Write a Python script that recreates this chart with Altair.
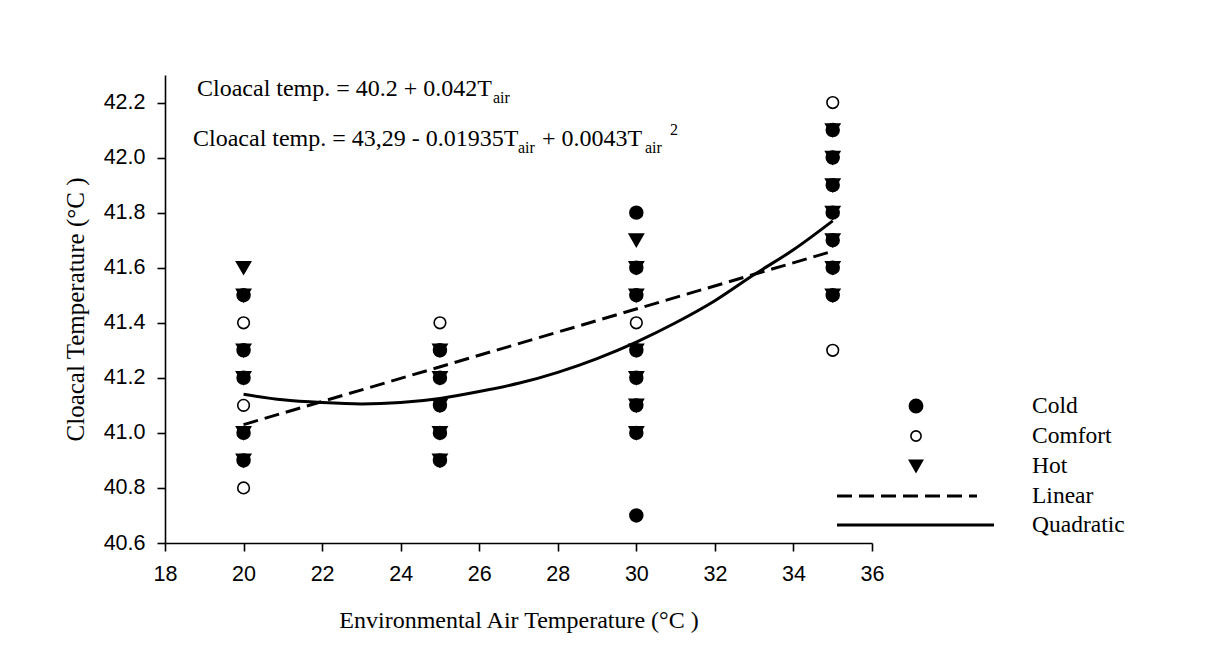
import altair as alt
import pandas as pd

# ---------------- data ----------------
air_levels = [20, 25, 30, 35]

cold_20 = [41.5, 41.3, 41.2, 41.0, 40.9]
cold_25 = [41.3, 41.2, 41.1, 41.0, 40.9]
cold_30 = [41.8, 41.6, 41.5, 41.3, 41.2, 41.1, 41.0, 40.7]
cold_35 = [42.1, 42.0, 41.9, 41.8, 41.7, 41.6, 41.5]

comfort_20 = [41.4, 41.1, 40.8]
comfort_25 = [41.4]
comfort_30 = [41.4]
comfort_35 = [42.2, 41.3]

hot_20 = [41.6, 41.5, 41.3, 41.2, 41.0, 40.9]
hot_25 = [41.3, 41.2, 41.1, 41.0, 40.9]
hot_30 = [41.7, 41.6, 41.5, 41.3, 41.2, 41.1, 41.0]
hot_35 = [42.1, 42.0, 41.9, 41.8, 41.7, 41.6, 41.5]

linear_x = [20, 35]
linear_y = [41.03, 41.66]

quad_x = [20, 21, 22, 23, 24, 25, 26, 27, 28, 29, 30, 31, 32, 33, 34, 35]
quad_y = [41.14, 41.12, 41.11, 41.105, 41.11, 41.125, 41.15, 41.18, 41.22,
          41.27, 41.33, 41.40, 41.48, 41.575, 41.665, 41.77]

x_ticks = [18, 20, 22, 24, 26, 28, 30, 32, 34, 36]
y_ticks = [40.6, 40.8, 41.0, 41.2, 41.4, 41.6, 41.8, 42.0, 42.2]

legend_labels = ["Cold", "Comfort", "Hot", "Linear", "Quadratic"]

# ---------------- tables ----------------
def group_df(lists, name):
    rows = []
    for x, ys in zip(air_levels, lists):
        for y in ys:
            rows.append({"air": x, "cloacal": y, "group": name})
    return pd.DataFrame(rows)

cold_df = group_df([cold_20, cold_25, cold_30, cold_35], "Cold")
comfort_df = group_df([comfort_20, comfort_25, comfort_30, comfort_35], "Comfort")
hot_df = group_df([hot_20, hot_25, hot_30, hot_35], "Hot")
lin_df = pd.DataFrame({"air": linear_x, "cloacal": linear_y})
quad_df = pd.DataFrame({"air": quad_x, "cloacal": quad_y})

W, H = 707, 468
SERIF = "Liberation Serif"
SANS = "Liberation Sans"

xs = alt.Scale(domain=[18, 36], nice=False, zero=False)
ys = alt.Scale(domain=[40.6, 42.3], nice=False, zero=False)

x_axis = alt.Axis(values=x_ticks, format="d", title="Environmental Air Temperature (°C )",
                  grid=False, domainColor="black", domainWidth=1.6, tickColor="black",
                  tickWidth=1.6, tickSize=8, labelFont=SANS, labelFontSize=21.5,
                  labelColor="black", labelPadding=12, labelFlush=False,
                  titleFont=SERIF, titleFontSize=24,
                  titleFontWeight="normal", titleColor="black", titleX=W / 2, titleY=77,
                  titleBaseline="middle")
y_axis = alt.Axis(values=y_ticks, format=".1f", title="Cloacal Temperature (°C )",
                  grid=False, domainColor="black", domainWidth=1.6, tickColor="black",
                  tickWidth=1.6, tickSize=8, labelFont=SANS, labelFontSize=21.5,
                  labelColor="black", labelPadding=12, labelFlush=False,
                  titleFont=SERIF, titleFontSize=25,
                  titleFontWeight="normal", titleColor="black", titleX=-90, titleY=H / 2,
                  titleBaseline="middle", titleAngle=-90)

X = alt.X("air:Q", scale=xs, axis=x_axis)
Y = alt.Y("cloacal:Q", scale=ys, axis=y_axis)
Xn = alt.X("air:Q", scale=xs)
Yn = alt.Y("cloacal:Q", scale=ys)

lin_line = alt.Chart(lin_df).mark_line(color="black", strokeWidth=3, strokeDash=[15, 7]).encode(x=X, y=Y)
quad_line = alt.Chart(quad_df).mark_line(color="black", strokeWidth=3, interpolate="monotone").encode(x=Xn, y=Yn)

cold_pts = alt.Chart(cold_df).mark_point(shape="circle", filled=True, fill="black",
                                         stroke="black", size=155, opacity=1).encode(x=Xn, y=Yn)
hot_pts = alt.Chart(hot_df).mark_point(shape="triangle-down", filled=True, fill="black",
                                       stroke="black", size=180, opacity=1).encode(x=Xn, y=Yn)
comfort_pts = alt.Chart(comfort_df).mark_point(shape="circle", filled=False, fill="white",
                                               stroke="black", strokeWidth=1.6, size=135,
                                               opacity=1, fillOpacity=1).encode(x=Xn, y=Yn)

# ---------------- equations ----------------
def txt(s, x, y, size=24, baseline="alphabetic"):
    return alt.Chart(pd.DataFrame({"t": [s]})).mark_text(
        text=s, font=SERIF, fontSize=size, color="black", align="left", baseline=baseline
    ).encode(x=alt.value(x), y=alt.value(y))

eq1_main = "Cloacal temp. = 40.2 + 0.042T"
eq2_a = "Cloacal temp. = 43,29 - 0.01935T"
eq2_b = "+ 0.0043T"

eqs = [
    txt(eq1_main, 32, 21),
    txt("air", 328, 28, 16),
    txt(eq2_a, 28, 71),
    txt("air", 353, 78, 16),
    txt(eq2_b, 377, 71),
    txt("air", 480, 78, 16),
    txt("2", 505, 60, 16),
]

# ---------------- legend ----------------
LX_SYM = 916 - 165
LX_TXT = 1032 - 165
leg_y = [406 - 75, 436 - 75, 466 - 75, 496 - 75, 525 - 75]

leg_cold = alt.Chart(pd.DataFrame({"k": [0]})).mark_point(
    shape="circle", filled=True, fill="black", stroke="black", size=165, opacity=1
).encode(x=alt.value(LX_SYM), y=alt.value(leg_y[0]))
leg_comfort = alt.Chart(pd.DataFrame({"k": [0]})).mark_point(
    shape="circle", filled=False, fill="white", stroke="black", strokeWidth=1.6, size=105, opacity=1
).encode(x=alt.value(LX_SYM), y=alt.value(leg_y[1]))
leg_hot = alt.Chart(pd.DataFrame({"k": [0]})).mark_point(
    shape="triangle-down", filled=True, fill="black", stroke="black", size=155, opacity=1
).encode(x=alt.value(LX_SYM), y=alt.value(leg_y[2]))
leg_lin = alt.Chart(pd.DataFrame({"k": [0]})).mark_rule(
    color="black", strokeWidth=3, strokeDash=[15, 7]
).encode(x=alt.value(837 - 165), x2=alt.value(977 - 165), y=alt.value(leg_y[3]))
leg_quad = alt.Chart(pd.DataFrame({"k": [0]})).mark_rule(
    color="black", strokeWidth=3
).encode(x=alt.value(837 - 165), x2=alt.value(994 - 165), y=alt.value(leg_y[4]))

leg_text = [
    alt.Chart(pd.DataFrame({"t": [lab]})).mark_text(
        text=lab, font=SERIF, fontSize=23.5, color="black", align="left", baseline="middle"
    ).encode(x=alt.value(LX_TXT), y=alt.value(yy))
    for lab, yy in zip(legend_labels, leg_y)
]

chart = alt.layer(
    lin_line, quad_line, cold_pts, hot_pts, comfort_pts,
    *eqs, leg_cold, leg_comfort, leg_hot, leg_lin, leg_quad, *leg_text
).properties(
    width=W, height=H,
    background="white",
    autosize=alt.AutoSizeParams(type="none"),
    padding={"left": 157, "top": 67, "right": 320, "bottom": 90},
).configure_view(stroke=None)

chart.save("out.html", embed_options={"renderer": "svg", "actions": False})
